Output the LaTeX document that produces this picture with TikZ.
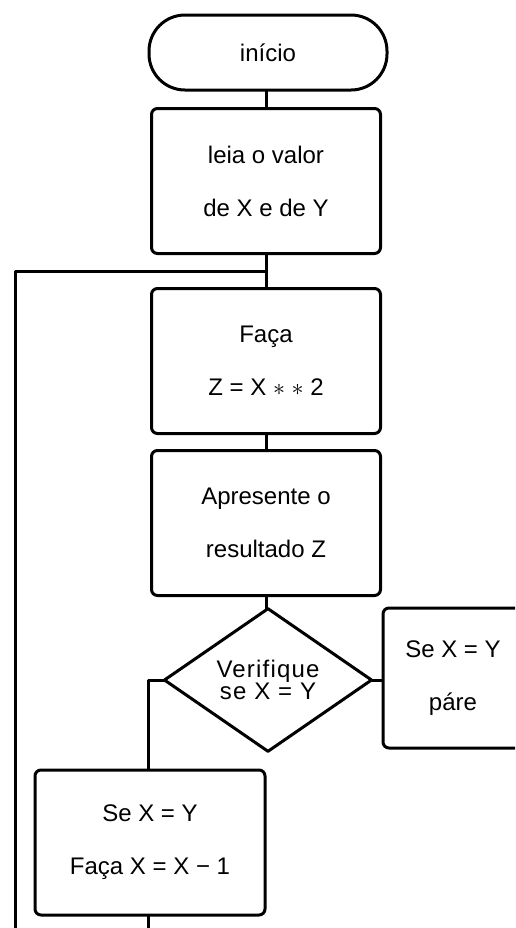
\documentclass[tikz,border=0pt]{standalone}
\usepackage{fontspec}
\setmainfont{Liberation Sans}
\newfontfamily\myDiamondFamily[LetterSpace=5]{Liberation Sans}
\usetikzlibrary{shapes.geometric}
\newcommand\myTightFont{\myDiamondFamily\fontsize{12}{11}\selectfont\lineskiplimit=-100pt\relax}
\begin{document}
\begin{tikzpicture}[x=0.5pt,y=-0.5pt,
  every node/.style={inner sep=0pt, outer sep=0pt},
  flowline/.style={line width=1.5pt, line join=round},
  txt/.style={align=center, font=\fontsize{12}{26.5}\selectfont},
  terminal/.style={flowline, draw, rounded corners=18pt, minimum width=119pt, minimum height=37.5pt, txt},
  procbox/.style={flowline, draw, rounded corners=3pt, minimum width=114.5pt, minimum height=72.5pt, txt},
  decision/.style={flowline, draw, diamond, minimum width=103.5pt, minimum height=70.5pt, align=center,
    font=\myTightFont}
]
\useasboundingbox (0,0) rectangle (515,928);
\clip (0,0) rectangle (515,928);

\node[terminal] (t) at (268,52.5) {início};
\node[procbox] (b1) at (266,181) {leia o valor\\de X e de Y};
\node[procbox] (b2) at (266,361) {Faça\\Z = X $\ast$ $\ast$ 2};
\node[procbox] (b3) at (266,523) {Apresente o\\resultado Z};
\node[decision] (d) at (268,680) {Verifique\\se X = Y};
\node[procbox, minimum width=70pt, minimum height=70pt] (r) at (453,678) {Se X = Y\\páre};
\node[procbox, minimum width=115pt, minimum height=72.5pt] (b4) at (150,842.5) {Se X = Y\\Faça X = X − 1};

\coordinate (j) at (266,271);
\coordinate (lj) at (15,271);
\coordinate (lb) at (15,928);
\coordinate (dl) at (148,680);
\coordinate (db) at (148,928);

\draw[flowline] (t.south -| b1.north) -- (b1.north);
\draw[flowline] (b1.south) -- (b2.north);
\draw[flowline] (j) -- (lj) -- (lb);
\draw[flowline] (b2.south) -- (b3.north);
\draw[flowline] (b3.south) -- (b3.south |- d.north);
\draw[flowline] (d.east) -- (d.east -| r.west);
\draw[flowline] (d.west) -- (dl) -- (dl |- b4.north);
\draw[flowline] (dl |- b4.south) -- (db);
\end{tikzpicture}
\end{document}
